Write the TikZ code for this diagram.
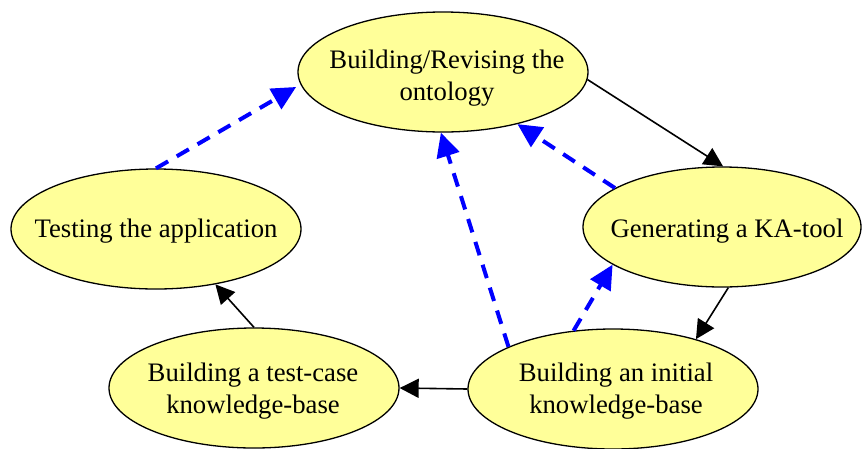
\documentclass[tikz,border=0pt]{standalone}
\usepackage{fontspec}
\setmainfont{Liberation Serif}
\usetikzlibrary{arrows.meta, shapes.geometric}
\definecolor{stagefill}{HTML}{FFFF99}
\definecolor{revblue}{RGB}{0,0,255}
\tikzset{
  stage/.style={ellipse, draw=black, line width=1.3pt, fill=stagefill,
    minimum width=290pt, minimum height=120pt, inner sep=0pt},
  stagetext/.style={align=center, inner sep=0pt,
    font=\fontsize{26.7}{32}\selectfont},
  flow/.style={draw=black, line width=1.6pt,
    -{Triangle[length=19pt, width=19pt]}},
  revise/.style={draw=revblue, line width=4pt, dash pattern=on 14pt off 10pt,
    -{Triangle[length=24pt, width=23pt]}}
}
\begin{document}
\begin{tikzpicture}[x=1pt, y=-1pt]
  \useasboundingbox (0,0) rectangle (862,448);

  % stages of the cycle
  \node[stage] (onto) at (443,72) {};
  \node[stage, minimum width=278pt] (katool) at (722,227) {};
  \node[stage] (test) at (156,229) {};
  \node[stage] (testkb) at (254,388) {};
  \node[stage] (initkb) at (613,389) {};

  \node[stagetext] (ontoT) at (447,78) {Building/Revising the\\ontology};
  \node[stagetext] (katoolT) at (727,231) {Generating a KA-tool};
  \node[stagetext] (testT) at (156,231) {Testing the application};
  \node[stagetext] (testkbT) at (253,391) {Building a test-case\\knowledge-base};
  \node[stagetext] (initkbT) at (616,391) {Building an initial\\knowledge-base};

  % forward flow
  \draw[flow] (onto.-3) -- (katool.89);
  \draw[flow] (katool.-84) -- (initkb.31);
  \draw[flow] (initkb.180) -- (testkb.0);
  \draw[flow] (testkb.90) -- (test.-43.5);

  % feedback to the ontology
  \draw[revise, shorten >=5pt] (test.90) -- (onto.185.4);
  \draw[revise] (initkb.158) -- (onto.268);
  \draw[revise] (initkb.124.8) -- (katool.199);
  \draw[revise] (katool.160.3) -- (onto.-35.8);
\end{tikzpicture}
\end{document}
